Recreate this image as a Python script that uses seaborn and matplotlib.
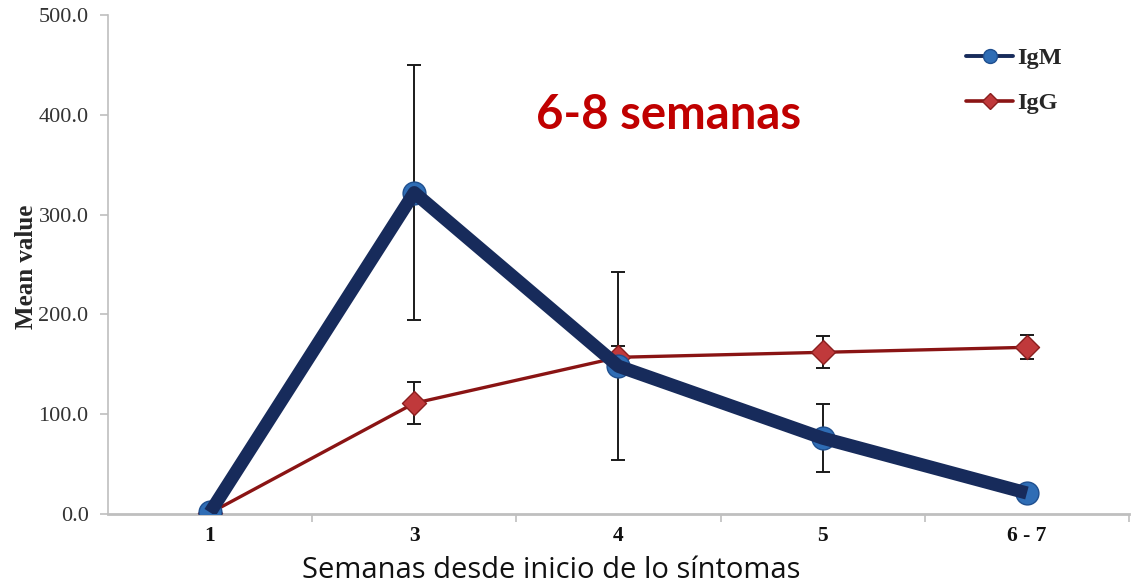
import numpy as np
import pandas as pd
import matplotlib
matplotlib.use("Agg")
import matplotlib.pyplot as plt
from matplotlib.lines import Line2D
import seaborn as sns

# Weeks since symptom onset and antibody means with their error margins
weeks = ["1", "3", "4", "5", "6 - 7"]
igm_mean = [1.5, 322.0, 148.0, 76.0, 21.0]
igm_err = [0.0, 128.0, 94.0, 34.0, 0.0]
igg_mean = [1.0, 111.0, 157.0, 162.0, 167.0]
igg_err = [0.0, 21.0, 11.0, 16.0, 12.0]

sns.set_theme(style="white")
plt.rcParams["font.family"] = ["Liberation Serif", "DejaVu Sans"]

pos = np.arange(len(weeks))
df = pd.DataFrame({
    "pos": np.concatenate([pos, pos]),
    "value": igm_mean + igg_mean,
    "serie": ["IgM"] * len(weeks) + ["IgG"] * len(weeks),
})
igm = df[df.serie == "IgM"]
igg = df[df.serie == "IgG"]

navy = "#172B5B"
blue = "#2F6DB5"
blue_edge = "#1F4F8F"
dred = "#8A1414"
red = "#C0393B"
red_edge = "#8A1E1E"

fig = plt.figure(figsize=(11.34, 5.86), dpi=100)
ax = fig.add_axes([0.0952, 0.1229, 0.9004, 0.8515])

# error bars sit underneath the series
ax.errorbar(pos[1:4], igm_mean[1:4], yerr=igm_err[1:4], fmt="none",
            ecolor="#1a1a1a", elinewidth=1.4, capsize=5, capthick=1.4, zorder=1)
ax.errorbar(pos[1:], igg_mean[1:], yerr=igg_err[1:], fmt="none",
            ecolor="#1a1a1a", elinewidth=1.4, capsize=5, capthick=1.4, zorder=1)

# IgG: thin dark red line with diamond markers
sns.lineplot(data=igg, x="pos", y="value", color=dred, linewidth=2.4,
             ax=ax, zorder=2, legend=False)
sns.scatterplot(data=igg, x="pos", y="value", marker="D", s=150,
                color=red, edgecolor=red_edge, linewidth=1.0, ax=ax,
                zorder=3, legend=False)

# IgM: circle markers under a heavy navy line
sns.scatterplot(data=igm, x="pos", y="value", marker="o", s=270,
                color=blue, edgecolor=blue_edge, linewidth=1.0, ax=ax,
                zorder=4, legend=False)
sns.lineplot(data=igm, x="pos", y="value", color=navy, linewidth=9.5,
             ax=ax, zorder=5, legend=False, solid_capstyle="butt")

ax.set_xlim(-0.5, len(weeks) - 0.5)
ax.set_ylim(0, 500)
ax.set_yticks(np.arange(0, 501, 100))
ax.set_yticklabels([f"{v:.1f}" for v in np.arange(0, 501, 100)],
                   fontsize=16, color="#333333")

# category labels at centres, tick marks at category boundaries
ax.set_xticks(np.arange(0.5, len(weeks), 1.0))
ax.set_xticklabels([""] * len(weeks))
ax.set_xticks(pos, minor=True)
ax.set_xticklabels(weeks, minor=True, fontsize=15.5, fontweight="bold",
                   color="#111111")
ax.tick_params(axis="x", which="major", direction="out", length=6,
               width=1.2, color="#BFBFBF", bottom=True)
ax.tick_params(axis="x", which="minor", length=0, pad=9, bottom=True)
ax.tick_params(axis="y", direction="out", length=6, width=1.2,
               color="#BFBFBF", left=True, pad=8)

for s in ["top", "right"]:
    ax.spines[s].set_visible(False)
ax.spines["left"].set_color("#BFBFBF")
ax.spines["left"].set_linewidth(1.2)
ax.spines["bottom"].set_color("#BFBFBF")
ax.spines["bottom"].set_linewidth(2.0)

ax.set_xlabel("")
ax.set_ylabel("Mean value", fontsize=18, fontweight="bold")
ax.yaxis.set_label_coords(-0.0686, 0.495)

fig.text(0.486, 0.002, "Semanas desde inicio de lo síntomas",
         family=["Open Sans", "DejaVu Sans"], fontsize=21, color="#111111",
         ha="center", va="bottom")

ax.text(0.549, 0.80, "6-8 semanas", transform=ax.transAxes,
        family=["Lato", "DejaVu Sans"], fontsize=34, fontweight="bold",
        color="#C00000", ha="center", va="center")

handles = [
    Line2D([], [], color=navy, linewidth=2.8, marker="o", markersize=10,
           markerfacecolor=blue, markeredgecolor=blue_edge),
    Line2D([], [], color=dred, linewidth=2.6, marker="D", markersize=8,
           markerfacecolor=red, markeredgecolor=red_edge),
]
fig.legend(handles, ["IgM", "IgG"], loc="upper left",
           bbox_to_anchor=(0.841, 0.940), frameon=False,
           prop={"family": "Liberation Serif", "weight": "bold", "size": 17.5},
           handlelength=1.95, handletextpad=0.15, labelspacing=0.95,
           borderpad=0)

fig.savefig("out.png", dpi=100, facecolor="white")
